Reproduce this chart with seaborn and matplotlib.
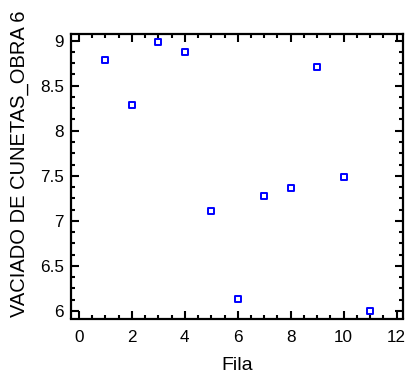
import matplotlib
matplotlib.use("Agg")
import matplotlib.pyplot as plt
from matplotlib.ticker import MultipleLocator, FuncFormatter
import seaborn as sns
import pandas as pd

fila = [1, 2, 3, 4, 5, 6, 7, 8, 9, 10, 11]
vaciado = [8.79, 8.29, 8.98, 8.87, 7.11, 6.13, 7.28, 7.36, 8.71, 7.49, 6.00]
x_label = "Fila"
y_label = "VACIADO DE CUNETAS_OBRA 6"

sns.set_style("white")
plt.rcParams['font.family'] = ['Liberation Sans', 'DejaVu Sans']
plt.rcParams['text.color'] = 'black'
plt.rcParams['axes.labelcolor'] = 'black'
plt.rcParams['xtick.color'] = 'black'
plt.rcParams['ytick.color'] = 'black'

df = pd.DataFrame({x_label: fila, y_label: vaciado})

fig = plt.figure(figsize=(4.06, 3.75), dpi=100)
ax = fig.add_axes([70.7 / 406, 1 - 318.5 / 375, (402.7 - 70.7) / 406, (318.5 - 34) / 375])

sns.scatterplot(data=df, x=x_label, y=y_label, ax=ax, marker='s', s=16,
                facecolor='white', edgecolor='#0000ff', linewidth=1.4, legend=False)

ax.set_xlim(-0.31, 12.23)
ax.set_ylim(5.916, 9.074)
ax.xaxis.set_major_locator(MultipleLocator(2))
ax.xaxis.set_minor_locator(MultipleLocator(0.5))
ax.yaxis.set_major_locator(MultipleLocator(0.5))
ax.yaxis.set_minor_locator(MultipleLocator(0.125))
ax.yaxis.set_major_formatter(FuncFormatter(lambda v, p: f"{v:g}"))

ax.tick_params(which='both', direction='in', top=True, right=True, bottom=True, left=True,
               color='black', labelcolor='black', width=1.5)
ax.tick_params(which='major', length=6, labelsize=12.3)
ax.tick_params(axis='x', which='major', pad=8)
ax.tick_params(axis='y', which='major', pad=5)
ax.tick_params(which='minor', length=3)

for s in ax.spines.values():
    s.set_visible(True)
    s.set_color('black')
    s.set_linewidth(1.6)

ax.set_xlabel(x_label, fontsize=14, labelpad=9, color='black')
ax.set_ylabel(y_label, fontsize=14.5, color='black')
ax.yaxis.set_label_coords(-0.126, 0.545)

fig.savefig("out.png", dpi=100)
